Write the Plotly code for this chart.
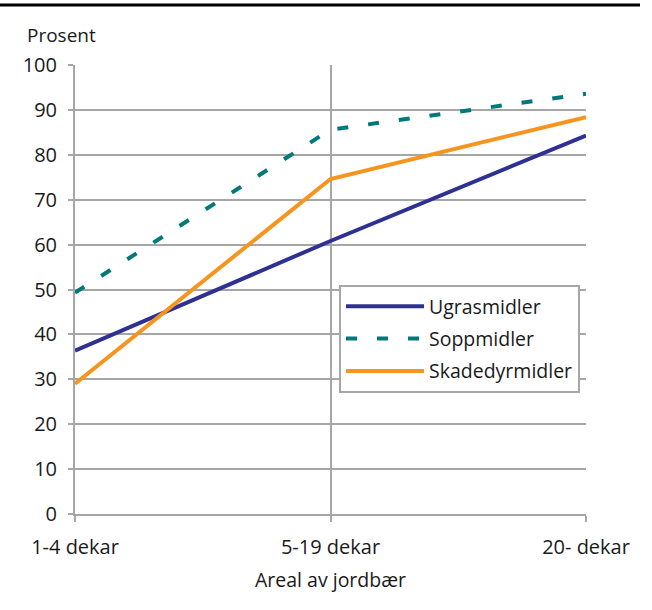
import plotly.graph_objects as go

categories = ["1-4 dekar", "5-19 dekar", "20- dekar"]
ugras = [36.4, 60.8, 84.3]
sopp = [49.3, 85.6, 93.6]
skade = [29.0, 74.6, 88.4]

xpos = list(range(len(categories)))
font = "Open Sans"
grid = "#A6A6A6"

fig = go.Figure()
fig.add_trace(go.Scatter(x=xpos, y=ugras, mode="lines", name="Ugrasmidler",
                         legendgroup="a",
                         line=dict(color="#2E3192", width=4)))
fig.add_trace(go.Scatter(x=xpos, y=sopp, mode="lines", name="Soppmidler",
                         legendgroup="b",
                         line=dict(color="#007A78", width=4, dash="11px,20px")))
fig.add_trace(go.Scatter(x=xpos, y=skade, mode="lines", name="Skadedyrmidler",
                         legendgroup="c",
                         line=dict(color="#F7941D", width=4)))

fig.update_layout(
    width=652, height=610,
    margin=dict(l=75, r=66, t=65, b=96),
    plot_bgcolor="white", paper_bgcolor="white",
    font=dict(family=font, size=19, color="#1a1a1a"),
    showlegend=True,
    legend=dict(x=(339 - 75) / 511, y=(514 - 285) / 449, xanchor="left", yanchor="top",
                bordercolor=grid, borderwidth=2, bgcolor="white",
                font=dict(size=19.5), tracegroupgap=4, itemwidth=78),
    xaxis=dict(range=[0, 2], tickvals=xpos, ticktext=categories,
               showgrid=True, gridcolor=grid, gridwidth=2,
               ticks="outside", ticklen=6, tickcolor=grid, tickwidth=2,
               ticklabelstandoff=8,
               showline=True, linecolor=grid, linewidth=2,
               zeroline=False, fixedrange=True,
               title=dict(text="Areal av jordbær", standoff=14, font=dict(size=19.5)),
               tickfont=dict(size=20)),
    yaxis=dict(range=[0, 100], dtick=10,
               showgrid=True, gridcolor=grid, gridwidth=2,
               ticks="outside", ticklen=5, tickcolor=grid, tickwidth=2,
               ticklabelstandoff=7,
               showline=True, linecolor=grid, linewidth=2,
               zeroline=False, fixedrange=True,
               tickfont=dict(size=20)),
)

fig.add_annotation(text="Prosent", xref="paper", yref="paper", x=(25 - 75) / 511, y=1 + 15 / 449,
                   xanchor="left", yanchor="bottom", showarrow=False,
                   font=dict(size=19))
fig.add_shape(type="line", xref="paper", yref="paper",
              x0=-75 / 511, x1=(640 - 75) / 511, y0=1 + 60 / 449, y1=1 + 60 / 449,
              line=dict(color="black", width=3))

fig.write_html("out.html")
